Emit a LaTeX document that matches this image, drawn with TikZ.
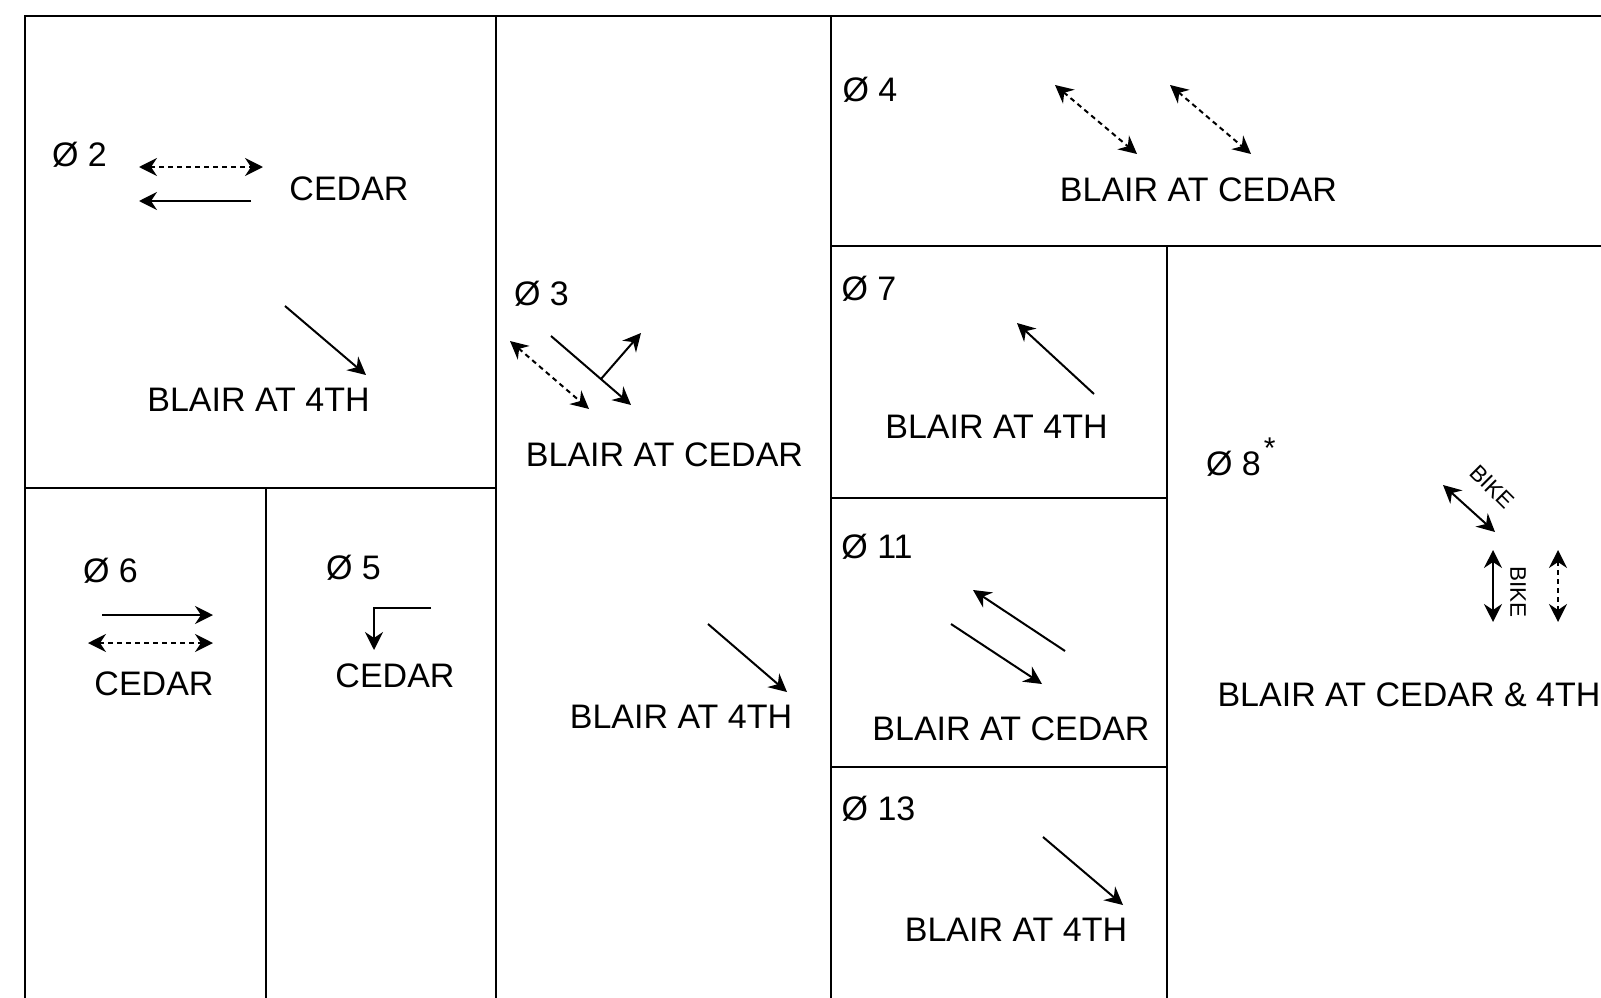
\documentclass[tikz,border=0pt]{standalone}
\usepackage{fontspec}
\setmainfont{Liberation Sans}
\usetikzlibrary{arrows.meta}

\begin{document}
\begin{tikzpicture}[x=1pt,y=-1pt,>={Stealth[length=18pt,width=18pt,inset=6pt]},line width=2pt]
\tikzstyle{lbl}=[font=\fontsize{34}{40}\selectfont,inner sep=0pt]
\tikzstyle{bike}=[font=\fontsize{22.5}{27}\selectfont,inner sep=0pt]
\tikzstyle{ped}=[<->,dash pattern=on 5pt off 4pt]
\tikzstyle{veh}=[->]
\useasboundingbox (0,0) rectangle (1601,998);
\draw (1601,16)--(25,16)--(25,998);
\draw (496,16)--(496,998);\draw (831,16)--(831,998);\draw (266,488)--(266,998);
\draw (25,488)--(496,488);\draw (831,246)--(1601,246);\draw (1167,246)--(1167,998);
\draw (831,498)--(1167,498);\draw (831,767)--(1167,767);
\node[lbl] (p2) at (79.5,155) {Ø 2};
\node[lbl] (c2) at (349,189) {CEDAR};
\node[lbl] (b2) at (258.5,400) {BLAIR AT 4TH};
\draw[ped] (139,167)--(263,167);\draw[veh] (251,201)--(139,201);\draw[veh] (285,306)--(366,375);
\node[lbl] (p3) at (541.5,294) {Ø 3};
\node[lbl] (b3) at (664.5,455) {BLAIR AT CEDAR};
\node[lbl] (b3l) at (681,717) {BLAIR AT 4TH};
\draw[ped] (510,341)--(589,409);
\draw[veh] (551,336)--(631,405);\draw[veh] (601,379)--(641,333);
\draw[veh] (708,624)--(787,692);
\node[lbl] (p4) at (870,90) {Ø 4};
\node[lbl] (b4) at (1198.5,190) {BLAIR AT CEDAR};
\draw[ped] (1055,85)--(1137,154);\draw[ped] (1170,85)--(1251,154);
\node[lbl] (p7) at (869,289) {Ø 7};
\node[lbl] (b7) at (996.5,427) {BLAIR AT 4TH};
\draw[veh] (1094,394)--(1017,323);
\node[lbl] (p11) at (877,547) {Ø 11};
\node[lbl] (b11) at (1011,729) {BLAIR AT CEDAR};
\draw[veh] (1065,651)--(973,590);\draw[veh] (951,624)--(1042,684);
\node[lbl] (p13) at (878.5,809) {Ø 13};
\node[lbl] (b13) at (1016,930) {BLAIR AT 4TH};
\draw[veh] (1043,837)--(1123,905);
\node[lbl,anchor=base west] (p8) at (1205,475) {Ø 8\kern3pt\raisebox{17pt}{\fontsize{30}{36}\selectfont *}};
\node[lbl] (b8) at (1409,695) {BLAIR AT CEDAR \& 4TH};
\draw[<->] (1443,485)--(1495,532);
\node[bike,rotate=-45] (k1) at (1492,487) {BIKE};
\draw[<->] (1493,550)--(1493,622);
\node[bike,rotate=-90] (k2) at (1518,592) {BIKE};
\draw[ped] (1558,550)--(1558,622);
\node[lbl] (p6) at (110.5,571) {Ø 6};
\node[lbl] (c6) at (154,684) {CEDAR};
\draw[veh] (102,615)--(213,615);\draw[ped] (88,643)--(213,643);
\node[lbl] (p5) at (353.5,568) {Ø 5};
\node[lbl] (c5) at (395,676) {CEDAR};
\draw[veh] (431,608)--(374,608)--(374,650);
\end{tikzpicture}
\end{document}
